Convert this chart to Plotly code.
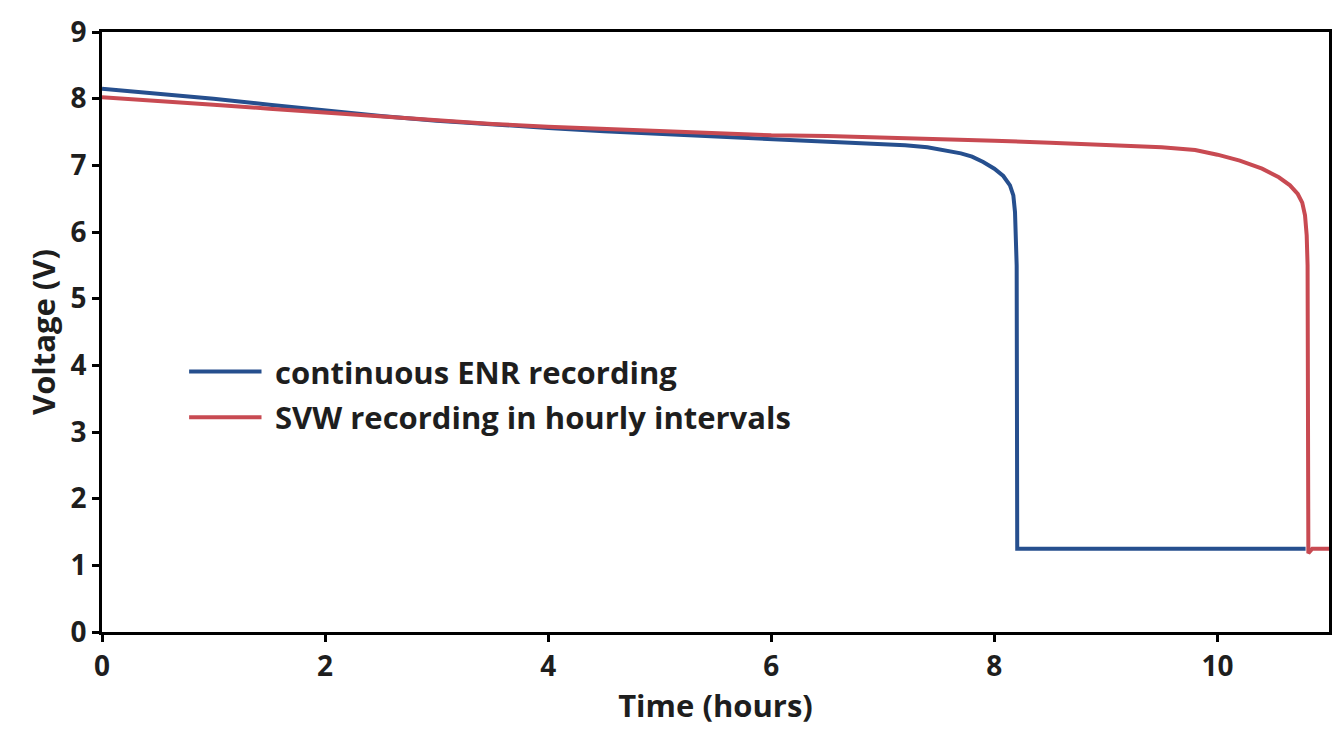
import plotly.graph_objects as go

# Continuous ENR recording (blue)
enr_time = [0, 0.5, 1, 1.5, 2, 2.5, 3, 3.5, 4, 4.5, 5, 5.5, 6, 6.5, 7, 7.2, 7.4, 7.6, 7.7,
            7.8, 7.9, 8.0, 8.08, 8.14, 8.17, 8.185, 8.2, 8.205, 10.79]
enr_volt = [8.15, 8.08, 8.0, 7.91, 7.82, 7.74, 7.67, 7.61, 7.56, 7.51, 7.47, 7.43, 7.39,
            7.36, 7.32, 7.30, 7.27, 7.22, 7.18, 7.13, 7.05, 6.95, 6.84, 6.70, 6.55, 6.30,
            5.5, 1.25, 1.25]

# SVW recording in hourly intervals (red)
svw_time = [0, 0.5, 1, 1.5, 2, 2.5, 3, 3.5, 4, 4.5, 5, 5.5, 6, 6.5, 7, 7.5, 8, 8.5, 9,
            9.5, 9.8, 10.0, 10.2, 10.4, 10.55, 10.65, 10.72, 10.76, 10.785, 10.8, 10.808,
            10.815, 10.85, 11]
svw_volt = [8.02, 7.97, 7.91, 7.85, 7.79, 7.73, 7.67, 7.62, 7.58, 7.55, 7.51, 7.48, 7.45,
            7.44, 7.42, 7.40, 7.37, 7.34, 7.31, 7.27, 7.23, 7.16, 7.07, 6.95, 6.82, 6.70,
            6.57, 6.44, 6.25, 5.95, 5.50, 1.18, 1.25, 1.25]

series_names = ["continuous ENR recording", "SVW recording in hourly intervals"]
series_colors = ["#264f8e", "#c84a52"]

x_ticks = [0, 2, 4, 6, 8, 10]
y_ticks = [0, 1, 2, 3, 4, 5, 6, 7, 8, 9]

FONT = "Open Sans"
TXT = "#1e1e1e"

fig = go.Figure()
fig.add_trace(go.Scatter(x=enr_time, y=enr_volt, mode="lines", name=series_names[0],
                         line=dict(color=series_colors[0], width=4), showlegend=False))
fig.add_trace(go.Scatter(x=svw_time, y=svw_volt, mode="lines", name=series_names[1],
                         line=dict(color=series_colors[1], width=4), showlegend=False))

# legend drawn as line samples + text
leg_y = [0.434, 0.358]
for i, (nm, col) in enumerate(zip(series_names, series_colors)):
    fig.add_shape(type="line", xref="paper", yref="paper",
                  x0=0.071, x1=0.130, y0=leg_y[i], y1=leg_y[i],
                  line=dict(color=col, width=4))
    fig.add_annotation(xref="paper", yref="paper", x=0.139, y=leg_y[i],
                       xanchor="left", yanchor="middle", showarrow=False,
                       text=nm, font=dict(family=FONT, size=31, color=TXT, weight="bold"))

axis_common = dict(showline=True, linecolor="black", linewidth=3, mirror=True,
                   ticks="outside", ticklen=7, tickwidth=3, tickcolor="black",
                   showgrid=False, zeroline=False,
                   tickfont=dict(family=FONT, size=28, color=TXT, weight="bold"))

fig.update_xaxes(range=[0, 11], tickvals=x_ticks, ticktext=[str(v) for v in x_ticks],
                 title=dict(text="Time (hours)", standoff=10,
                            font=dict(family=FONT, size=31, color=TXT, weight="bold")),
                 **axis_common)
fig.update_yaxes(range=[0, 9], tickvals=y_ticks, ticktext=[str(v) for v in y_ticks],
                 title=dict(text="Voltage (V)", standoff=6,
                            font=dict(family=FONT, size=31, color=TXT, weight="bold")),
                 **axis_common)

fig.update_layout(width=1344, height=731, paper_bgcolor="white", plot_bgcolor="white",
                  margin=dict(l=102, r=12, t=23, b=99))

fig.write_html("out.html")
